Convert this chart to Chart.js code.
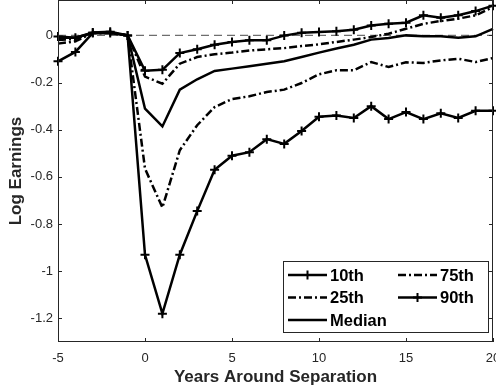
<!DOCTYPE html>
<html>
<head>
<meta charset="utf-8">
<script src="https://cdn.jsdelivr.net/npm/chart.js@4"></script>
<style>
  html, body { margin: 0; padding: 0; background: #fff; }
  #wrap { width: 496px; height: 391px; }
</style>
</head>
<body>
<div id="wrap"><canvas id="chart"></canvas></div>
<script>
const years = [-5, -4, -3, -2, -1, 0, 1, 2, 3, 4, 5, 6, 7, 8, 9, 10, 11, 12, 13, 14, 15, 16, 17, 18, 19, 20];

const p10 = [-0.11, -0.07, 0.01, 0.01, 0, -0.93, -1.18, -0.93, -0.745, -0.57, -0.51, -0.495, -0.44, -0.46, -0.405, -0.345, -0.34, -0.35, -0.30, -0.355, -0.325, -0.355, -0.33, -0.35, -0.32, -0.32];
const p25 = [-0.035, -0.025, 0.01, 0.01, 0, -0.565, -0.73, -0.487, -0.381, -0.304, -0.27, -0.258, -0.24, -0.23, -0.202, -0.165, -0.148, -0.148, -0.113, -0.134, -0.114, -0.117, -0.106, -0.099, -0.113, -0.096];
const median = [-0.01, -0.01, 0.01, 0.01, 0, -0.311, -0.386, -0.23, -0.186, -0.151, -0.141, -0.131, -0.12, -0.11, -0.092, -0.073, -0.056, -0.04, -0.018, -0.011, 0, -0.004, -0.004, -0.01, -0.004, 0.028];
const p75 = [-0.02, -0.015, 0.01, 0.01, 0, -0.175, -0.205, -0.12, -0.092, -0.08, -0.073, -0.064, -0.059, -0.054, -0.045, -0.038, -0.028, -0.018, -0.007, 0.007, 0.028, 0.049, 0.061, 0.071, 0.085, 0.12];
const p90 = [-0.005, -0.01, 0.012, 0.015, 0, -0.15, -0.146, -0.075, -0.059, -0.04, -0.028, -0.021, -0.021, -0.001, 0.011, 0.014, 0.018, 0.024, 0.042, 0.049, 0.054, 0.085, 0.075, 0.085, 0.103, 0.126];

const xTicks = [-5, 0, 5, 10, 15, 20];
const yTicks = [-1.2, -1, -0.8, -0.6, -0.4, -0.2, 0];

const AXIS = '#262626';
const DASHDOT = [8, 3, 2, 3];

function pts(vals) {
    return years.map((x, i) => ({ x: x, y: vals[i] }));
}

function series(label, vals, marker, dash) {
    return {
        label: label,
        data: pts(vals),
        borderColor: '#000',
        backgroundColor: '#000',
        borderWidth: 2.5,
        borderDash: dash,
        pointStyle: 'cross',
        pointRadius: marker ? 4.5 : 0,
        pointBorderWidth: 2,
        pointBorderColor: '#000',
        tension: 0,
        clip: false
    };
}

// legend layout: column-major like the original (10th,25th,Median | 75th,90th)
const legendOrder = [
    { ds: 0, col: 0, row: 0 },
    { ds: 1, col: 0, row: 1 },
    { ds: 2, col: 0, row: 2 },
    { ds: 3, col: 1, row: 0 },
    { ds: 4, col: 1, row: 1 }
];

const framePlugin = {
    id: 'frame',
    beforeDatasetsDraw(chart) {
        const { ctx, chartArea: a, scales } = chart;
        const y0 = scales.y.getPixelForValue(0);
        ctx.save();
        ctx.strokeStyle = '#6e6e6e';
        ctx.lineWidth = 1.3;
        ctx.setLineDash([8, 5]);
        ctx.beginPath();
        ctx.moveTo(a.left, y0);
        ctx.lineTo(a.right, y0);
        ctx.stroke();
        ctx.restore();
    },
    afterDatasetsDraw(chart) {
        const { ctx, chartArea: a, scales } = chart;
        ctx.save();
        ctx.strokeStyle = AXIS;
        ctx.lineWidth = 1;
        ctx.strokeRect(a.left + 0.5, a.top + 0.5, a.right - a.left - 1, a.bottom - a.top - 1);
        ctx.beginPath();
        const tl = 4;
        xTicks.forEach(v => {
            const px = Math.round(scales.x.getPixelForValue(v)) + 0.5;
            ctx.moveTo(px, a.bottom); ctx.lineTo(px, a.bottom - tl);
            ctx.moveTo(px, a.top); ctx.lineTo(px, a.top + tl);
        });
        yTicks.forEach(v => {
            const py = Math.round(scales.y.getPixelForValue(v)) + 0.5;
            ctx.moveTo(a.left, py); ctx.lineTo(a.left + tl, py);
            ctx.moveTo(a.right, py); ctx.lineTo(a.right - tl, py);
        });
        ctx.stroke();
        ctx.restore();
    },
    afterDraw(chart) {
        const { ctx, chartArea: a } = chart;
        const w = 205, h = 71;
        const bx = a.right - 5 - w, by = a.bottom - 10 - h;
        ctx.save();
        ctx.fillStyle = '#fff';
        ctx.fillRect(bx, by, w, h);
        ctx.strokeStyle = AXIS;
        ctx.lineWidth = 1;
        ctx.strokeRect(bx + 0.5, by + 0.5, w, h);
        ctx.font = 'bold 16.5px "Liberation Sans", Arial, sans-serif';
        ctx.textBaseline = 'middle';
        ctx.fillStyle = '#000';
        legendOrder.forEach(it => {
            const ds = chart.data.datasets[it.ds];
            const sx = bx + (it.col === 0 ? 5 : 115);
            const sy = by + 14 + it.row * 22.5;
            ctx.strokeStyle = '#000';
            ctx.lineWidth = 2.5;
            ctx.setLineDash(ds.borderDash || []);
            ctx.beginPath();
            ctx.moveTo(sx, sy);
            ctx.lineTo(sx + 39, sy);
            ctx.stroke();
            ctx.setLineDash([]);
            if (ds.pointRadius > 0) {
                ctx.lineWidth = 2;
                ctx.beginPath();
                ctx.moveTo(sx + 19.5, sy - 4.5); ctx.lineTo(sx + 19.5, sy + 4.5);
                ctx.moveTo(sx + 15, sy); ctx.lineTo(sx + 24, sy);
                ctx.stroke();
            }
            ctx.fillText(ds.label, sx + 42, sy + 1);
        });
        ctx.restore();
    }
};

new Chart(document.getElementById('chart'), {
    type: 'line',
    data: {
        datasets: [
            series('10th', p10, true, []),
            series('25th', p25, false, DASHDOT),
            series('Median', median, false, []),
            series('75th', p75, false, DASHDOT),
            series('90th', p90, true, [])
        ]
    },
    options: {
        responsive: true,
        maintainAspectRatio: false,
        animation: false,
        layout: { autoPadding: false, padding: { top: 0, right: 3, bottom: 0, left: 0 } },
        plugins: {
            legend: { display: false },
            tooltip: { enabled: false }
        },
        scales: {
            x: {
                type: 'linear',
                min: -5,
                max: 20,
                grid: { display: false, drawTicks: false },
                border: { display: false },
                afterBuildTicks: s => { s.ticks = xTicks.map(v => ({ value: v })); },
                afterFit: s => { s.height = 49; s.paddingLeft = 0; s.paddingRight = 0; },
                ticks: {
                    padding: 9,
                    maxRotation: 0,
                    color: AXIS,
                    font: { family: '"Liberation Sans", Arial, sans-serif', size: 13 },
                    callback: v => String(v)
                },
                title: {
                    display: true,
                    text: 'Years Around Separation',
                    color: AXIS,
                    padding: { top: 0, bottom: 3 },
                    font: { family: '"Liberation Sans", Arial, sans-serif', size: 17, weight: 'bold' }
                }
            },
            y: {
                min: -1.3,
                max: 0.15,
                grid: { display: false, drawTicks: false },
                border: { display: false },
                afterBuildTicks: s => { s.ticks = yTicks.map(v => ({ value: v })); },
                afterFit: s => { s.width = 58; s.paddingTop = 0; s.paddingBottom = 0; },
                ticks: {
                    padding: 5,
                    color: AXIS,
                    font: { family: '"Liberation Sans", Arial, sans-serif', size: 13 },
                    callback: v => String(Math.round(v * 10) / 10)
                },
                title: {
                    display: true,
                    text: 'Log Earnings',
                    color: AXIS,
                    padding: { top: 6, bottom: 0 },
                    font: { family: '"Liberation Sans", Arial, sans-serif', size: 17, weight: 'bold' }
                }
            }
        }
    },
    plugins: [framePlugin]
});
</script>
</body>
</html>
